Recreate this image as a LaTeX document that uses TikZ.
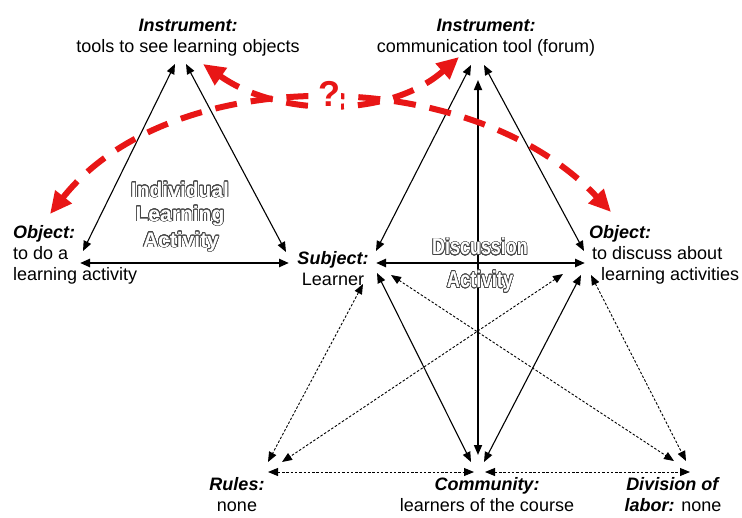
\documentclass[tikz,border=0pt]{standalone}
\usepackage{fontspec}
\setmainfont{Liberation Sans}
\usepackage{contour}
\usetikzlibrary{arrows.meta}
\contourlength{0.7pt}
\contournumber{24}
\definecolor{qred}{RGB}{232,22,22}
\definecolor{olgray}{RGB}{70,70,70}
\newcommand{\hollowtxt}[1]{\contour{olgray}{\textcolor{white}{#1}}}
\tikzset{
  lbl/.style={font=\fontsize{18}{21}\selectfont, inner sep=0pt},
  bigtxt/.style={font=\fontsize{21}{25}\selectfont\bfseries, inner sep=0pt},
  tip/.tip={Triangle[length=10pt,width=8pt]},
  solidline/.style={line width=1.1pt, tip-tip},
  vline/.style={line width=1.7pt, tip-tip},
  thickline/.style={line width=2.4pt, tip-tip},
  dotline/.style={line width=0.9pt, dash pattern=on 2.5pt off 1.8pt, tip-tip},
  redarrow/.style={qred, line width=6pt, dash pattern=on 22pt off 14pt,
    {Triangle[length=22pt,width=20pt]}-{Triangle[length=22pt,width=20pt]}},
}
\begin{document}
\begin{tikzpicture}[x=1pt,y=-1pt]
\useasboundingbox (0,0) rectangle (742,517);
% endpoints
\coordinate (lia) at (175,64);
\coordinate (lib) at (186,64);
\coordinate (loa) at (83,251);
\coordinate (lob) at (80,263);
\coordinate (lsa) at (286,252);
\coordinate (lsb) at (289,263);
\coordinate (ria) at (471,65);
\coordinate (rib) at (484,65);
\coordinate (ric) at (478,80);
\coordinate (sa) at (376,251);
\coordinate (sb) at (376,263);
\coordinate (sc) at (377,273);
\coordinate (sd) at (363,284);
\coordinate (se) at (391,275);
\coordinate (roa) at (584,251);
\coordinate (rob) at (585,263);
\coordinate (roc) at (581,275);
\coordinate (rod) at (563,274);
\coordinate (roe) at (591,275);
\coordinate (ra) at (268,462);
\coordinate (rb) at (282,462);
\coordinate (rc) at (268,472);
\coordinate (ca) at (471,462);
\coordinate (cb) at (484,462);
\coordinate (cc) at (478,455);
\coordinate (cd) at (474,472);
\coordinate (ce) at (485,472);
\coordinate (da) at (674,461);
\coordinate (db) at (686,461);
\coordinate (dc) at (690,472);
\coordinate (lir) at (203,64);
\coordinate (rir) at (459,57);
\coordinate (lor) at (50,214);
\coordinate (ror) at (611,212);

% labels
\node[lbl, anchor=north, align=center] (linst) at (188,19)
  {\textbf{\textit{Instrument:}}\\tools to see learning objects};
\node[lbl, anchor=north, align=center] (rinst) at (486,19)
  {\textbf{\textit{Instrument:}}\\communication tool (forum)};
\node[lbl, anchor=north west, align=left] (lobj) at (13,225)
  {\textbf{\textit{Object:}}\\to do a\\learning activity};
\node[lbl, anchor=north, align=center] (subj) at (333,251)
  {\textbf{\textit{Subject:}}\\Learner};
\node[lbl, anchor=north west, align=left] (robj) at (589,225)
  {\textbf{\textit{Object:}}\\\hspace*{3pt}to discuss about\\\hspace*{12pt}learning activities};
\node[lbl, anchor=north, align=center] (rules) at (237,477)
  {\textbf{\textit{Rules:}}\\none};
\node[lbl, anchor=north, align=center] (comm) at (487,477)
  {\textbf{\textit{Community:}}\\learners of the course};
\node[lbl, anchor=north, align=center] (div) at (673,477)
  {\textbf{\textit{Division of}}\\\textbf{\textit{labor:}} none};

% left triangle
\draw[solidline] (lia) -- (loa);
\draw[solidline] (lib) -- (lsa);
\draw[thickline] (lob) -- (lsb);
% right triangle
\draw[solidline] (ria) -- (sa);
\draw[solidline] (rib) -- (roa);
\draw[vline] (ric) -- (cc);
\draw[thickline] (sb) -- (rob);
\draw[solidline] (sc) -- (ca);
\draw[solidline] (roc) -- (cb);
\draw[dotline] (sd) -- (ra);
\draw[dotline] (rod) -- (rb);
\draw[dotline] (se) -- (da);
\draw[dotline] (roe) -- (db);
\draw[dotline] (rc) -- (cd);
\draw[dotline] (ce) -- (dc);

% activity titles
\node[bigtxt] (ind1) at (180,190) {\hollowtxt{Individual}};
\node[bigtxt] (ind2) at (180,216) {\hollowtxt{Learning}};
\node[bigtxt] (ind3) at (181,242) {\hollowtxt{Activity}};
\node[bigtxt, font=\fontsize{23}{27}\selectfont\bfseries] (disc1) at (480,247)
  {\scalebox{0.78}[1]{\hollowtxt{Discussion}}};
\node[bigtxt, font=\fontsize{23}{27}\selectfont\bfseries] (disc2) at (480,282)
  {\scalebox{0.8}[1]{\hollowtxt{Activity}}};

% red arrows
\draw[redarrow] (lir) .. controls (280,118) and (390,118) .. (rir);
\draw[redarrow] (lor) .. controls (170,62) and (470,62) .. (ror);
\node[text=qred, fill=white, font=\fontsize{36}{38}\selectfont\bfseries, inner xsep=1.5pt, inner ysep=5pt] (q) at (329,94) {?};
\end{tikzpicture}
\end{document}
